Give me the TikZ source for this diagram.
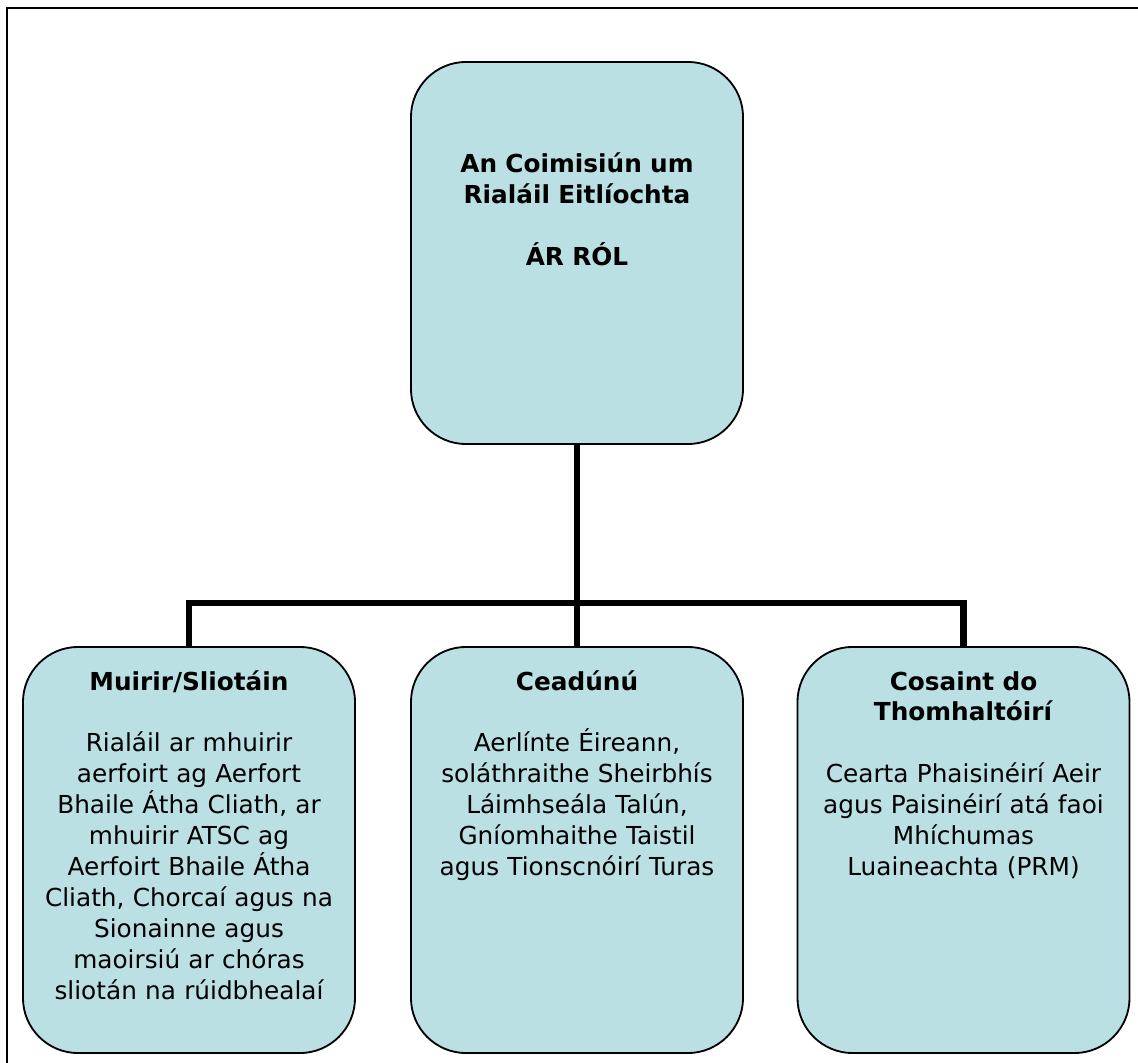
\documentclass[tikz,border=0pt]{standalone}
\usepackage{fontspec}
\setmainfont{DejaVu Sans}
\usepackage{tikz}
\usetikzlibrary{positioning}
\definecolor{boxfill}{HTML}{BBE0E3}
\tikzset{
  box/.style={draw=black, fill=boxfill, line width=1.3pt, rounded corners=1.38cm,
    minimum width=8.3cm, outer sep=0pt, inner sep=0pt},
  link/.style={draw=black, line width=4.8pt},
  frame/.style={draw=black, line width=1.4pt},
  lab/.style={anchor=base, text width=8.2cm, align=center, inner sep=0pt,
    font=\fontsize{17.6}{22}\selectfont},
}
\begin{document}
\begin{tikzpicture}[x=0.025cm, y=-0.025cm]
  \useasboundingbox (0,0) rectangle (1138,1063);
  \draw[frame] (1138,8) -- (7,8) -- (7,1063);
  % boxes
  \node[box, minimum height=9.55cm] (role) at (577,253) {};
  \node[box, minimum height=10.15cm] (charges) at (189,850) {};
  \node[box, minimum height=10.15cm] (licensing) at (577,850) {};
  \node[box, minimum height=10.15cm] (consumer) at (963.5,850) {};
  % texts
  \node[lab] (roletext) at (577,173)
    {\textbf{An Coimisiún um\\Rialáil Eitlíochta\\[22pt]ÁR RÓL}};
  \node[lab] (chargestext) at (189,690)
    {\textbf{Muirir/Sliotáin}\\[22pt]Rialáil ar mhuirir\\aerfoirt ag Aerfort\\Bhaile Átha Cliath, ar\\mhuirir ATSC ag\\Aerfoirt Bhaile Átha\\Cliath, Chorcaí agus na\\Sionainne agus\\maoirsiú ar chóras\\sliotán na rúidbhealaí};
  \node[lab] (licensingtext) at (577,690)
    {\textbf{Ceadúnú}\\[22pt]Aerlínte Éireann,\\soláthraithe Sheirbhís\\Láimhseála Talún,\\Gníomhaithe Taistil\\agus Tionscnóirí Turas};
  \node[lab] (consumertext) at (963.5,690)
    {\textbf{Cosaint do\\Thomhaltóirí}\\[22pt]Cearta Phaisinéirí Aeir\\agus Paisinéirí atá faoi\\Mhíchumas\\Luaineachta (PRM)};
  % connectors
  \coordinate (bus) at (577,603);
  \draw[link] (role.south) -- (licensing.north);
  \draw[link] (charges.north) |- (bus) -| (consumer.north);
\end{tikzpicture}
\end{document}
